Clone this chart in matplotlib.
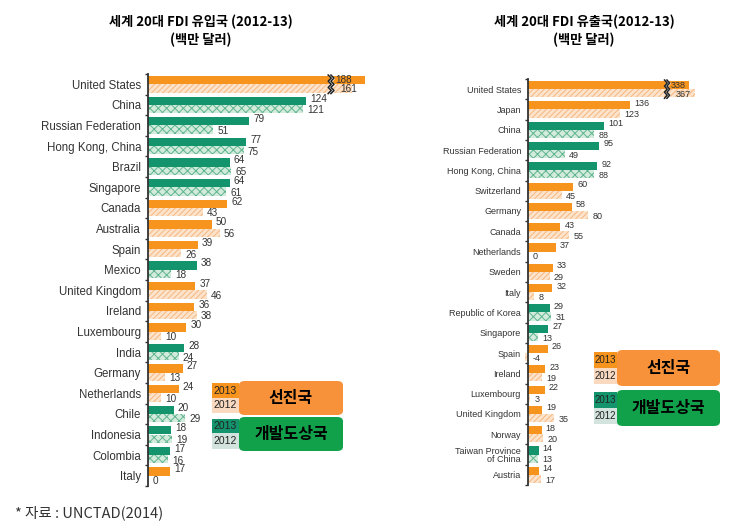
import numpy as np
import matplotlib.pyplot as plt
from matplotlib.patches import FancyBboxPatch, Rectangle

plt.rcParams['font.family'] = ['Liberation Sans', 'DejaVu Sans']
plt.rcParams['hatch.linewidth'] = 0.7

KFONT = ['Noto Sans CJK KR', 'DejaVu Sans']

# FDI inflows (US$ billion), 2013 / 2012 ; d = developed, g = developing
in_countries = ['United States', 'China', 'Russian Federation', 'Hong Kong, China',
                'Brazil', 'Singapore', 'Canada', 'Australia', 'Spain', 'Mexico',
                'United Kingdom', 'Ireland', 'Luxembourg', 'India', 'Germany',
                'Netherlands', 'Chile', 'Indonesia', 'Colombia', 'Italy']
in_2013 = [188, 124, 79, 77, 64, 64, 62, 50, 39, 38, 37, 36, 30, 28, 27, 24, 20, 18, 17, 17]
in_2012 = [161, 121, 51, 75, 65, 61, 43, 56, 26, 18, 46, 38, 10, 24, 13, 10, 29, 19, 16, 0]
in_group = ['d', 'g', 'g', 'g', 'g', 'g', 'd', 'd', 'd', 'g',
            'd', 'd', 'd', 'g', 'd', 'd', 'g', 'g', 'g', 'd']
in_us_shown = [170, 160]   # broken bar lengths for the US

# FDI outflows
out_countries = ['United States', 'Japan', 'China', 'Russian Federation', 'Hong Kong, China',
                 'Switzerland', 'Germany', 'Canada', 'Netherlands', 'Sweden', 'Italy',
                 'Republic of Korea', 'Singapore', 'Spain', 'Ireland', 'Luxembourg',
                 'United Kingdom', 'Norway', 'Taiwan Province\nof China', 'Austria']
out_2013 = [338, 136, 101, 95, 92, 60, 58, 43, 37, 33, 32, 29, 27, 26, 23, 22, 19, 18, 14, 14]
out_2012 = [367, 123, 88, 49, 88, 45, 80, 55, 0, 29, 8, 31, 13, -4, 19, 3, 35, 20, 13, 17]
out_group = ['d', 'd', 'g', 'g', 'g', 'd', 'd', 'd', 'd', 'd', 'd',
             'g', 'g', 'd', 'd', 'd', 'd', 'd', 'g', 'd']
out_us_shown = [215, 223]

ORANGE = '#F7941D'
ORANGE_LT = '#FCE3CC'
ORANGE_H = '#F6B77E'
GREEN = '#14946C'
GREEN_LT = '#D3EBDD'
GREEN_H = '#5FB58E'

W, H = 738, 530
fig = plt.figure(figsize=(W / 100, H / 100), dpi=100)


def rect(x0, y0, x1, y1):
    return [x0 / W, 1 - y1 / H, (x1 - x0) / W, (y1 - y0) / H]


def draw(ax, countries, v13, v12, groups, us_shown, brk, amp, lab_fs, val_fs, xmax):
    y = np.arange(len(countries))
    s13 = list(v13)
    s12 = list(v12)
    s13[0], s12[0] = us_shown
    for i in range(len(countries)):
        if groups[i] == 'd':
            c, lt, hc, hat = ORANGE, ORANGE_LT, ORANGE_H, '//////'
        else:
            c, lt, hc, hat = GREEN, GREEN_LT, GREEN_H, 'xxxx'
        ax.barh(y[i] - 0.2, s13[i], height=0.4, color=c, clip_on=False)
        ax.barh(y[i] + 0.2, s12[i], height=0.4, facecolor=lt, hatch=hat,
                edgecolor=hc, linewidth=0, clip_on=False)
        if i == 0:
            ax.text(brk + amp * 2.2, y[i] - 0.2, str(v13[i]), fontsize=val_fs,
                    va='center', ha='left', color='#333333')
            ax.text(brk + amp * 4, y[i] + 0.25, str(v12[i]), fontsize=val_fs,
                    va='center', ha='left', color='#333333')
        else:
            ax.annotate(str(v13[i]), xy=(max(s13[i], 0), y[i] - 0.2), xytext=(3, 1.5),
                        textcoords='offset points', fontsize=val_fs, va='center',
                        ha='left', color='#333333')
            ax.annotate(str(v12[i]), xy=(max(s12[i], 0), y[i] + 0.2), xytext=(3, -1),
                        textcoords='offset points', fontsize=val_fs, va='center',
                        ha='left', color='#333333')
    # break marks on the US bars
    zy = np.linspace(-0.45, 0.45, 7)
    zx = np.array([0, 1, 0, 1, 0, 1, 0]) * amp
    ax.fill_betweenx(zy, brk + zx, brk + zx + amp * 0.9, color='white', zorder=3)
    ax.plot(brk + zx, zy, color='#222222', lw=1.1, zorder=4)
    ax.plot(brk + zx + amp * 0.9, zy, color='#222222', lw=1.1, zorder=4)

    ax.set_ylim(len(countries) - 0.5, -0.5)
    ax.set_xlim(0, xmax)
    ax.set_yticks(y)
    ax.set_yticklabels(countries, fontsize=lab_fs, color='#333333', linespacing=0.9)
    ax.set_yticks(np.arange(len(countries) + 1) - 0.5, minor=True)
    ax.tick_params(axis='y', which='major', length=0, pad=5)
    ax.tick_params(axis='y', which='minor', length=2.5, width=1, color='#333333')
    ax.set_xticks([])
    for s in ['top', 'right', 'bottom']:
        ax.spines[s].set_visible(False)
    ax.spines['left'].set_color('#333333')
    ax.spines['left'].set_linewidth(1.3)


ax1 = fig.add_axes(rect(148, 74, 378, 486))
draw(ax1, in_countries, in_2013, in_2012, in_group, in_us_shown,
     brk=141, amp=2.4, lab_fs=8.3, val_fs=7.2, xmax=180)

ax2 = fig.add_axes(rect(528, 79, 708, 485))
draw(ax2, out_countries, out_2013, out_2012, out_group, out_us_shown,
     brk=182, amp=3.6, lab_fs=6.5, val_fs=6.5, xmax=240)

# titles
fig.text(201 / W, 1 - 22 / H, '세계 20대 FDI 유입국 (2012-13)', family=KFONT,
         fontsize=9.5, fontweight='bold', ha='center', va='center')
fig.text(201 / W, 1 - 40 / H, '(백만 달러)', family=KFONT,
         fontsize=9.5, fontweight='bold', ha='center', va='center')
fig.text(584 / W, 1 - 22 / H, '세계 20대 FDI 유출국(2012-13)', family=KFONT,
         fontsize=9.5, fontweight='bold', ha='center', va='center')
fig.text(584 / W, 1 - 40 / H, '(백만 달러)', family=KFONT,
         fontsize=9.5, fontweight='bold', ha='center', va='center')


def legend(x0, xs, x1, ys, fs_year, fs_main):
    # ys: (top orange, mid, bottom orange, top green, mid, bottom green)
    items = [(ORANGE, '#F9D9C0', '#F7923A', '선진국', ys[0], ys[1], ys[2]),
             (GREEN, '#D3E4DE', '#12A14B', '개발도상국', ys[3], ys[4], ys[5])]
    for dark, light, main, txt, t, m, b in items:
        fig.add_artist(Rectangle((x0 / W, 1 - m / H), (xs - x0) / W, (m - t) / H,
                                 transform=fig.transFigure, color=dark, lw=0))
        fig.add_artist(Rectangle((x0 / W, 1 - b / H), (xs - x0) / W, (b - m) / H,
                                 transform=fig.transFigure, color=light, lw=0))
        fig.text((x0 + xs) / 2 / W, 1 - (t + m) / 2 / H, '2013', fontsize=fs_year,
                 ha='center', va='center', color='#222222')
        fig.text((x0 + xs) / 2 / W, 1 - (m + b) / 2 / H, '2012', fontsize=fs_year,
                 ha='center', va='center', color='#222222')
        fig.add_artist(FancyBboxPatch((xs / W, 1 - (b + 2) / H), (x1 - xs) / W,
                                      (b - t + 4) / H,
                                      boxstyle='round,pad=0,rounding_size=0.008',
                                      transform=fig.transFigure, color=main, lw=0))
        fig.text((xs + x1) / 2 / W, 1 - (t + b) / 2 / H, txt, family=KFONT,
                 fontsize=fs_main, fontweight='bold', ha='center', va='center')


legend(212, 239, 343, (383, 398, 413, 419, 433, 449), 7.5, 11.5)
legend(594, 617, 720, (352, 368, 384, 392, 408, 424), 7.0, 11.5)

fig.text(15 / W, 1 - 513 / H, '* 자료 : UNCTAD(2014)', family=KFONT,
         fontsize=10.5, color='#333333', ha='left', va='center')

fig.savefig('out.png', dpi=100, facecolor='white')
